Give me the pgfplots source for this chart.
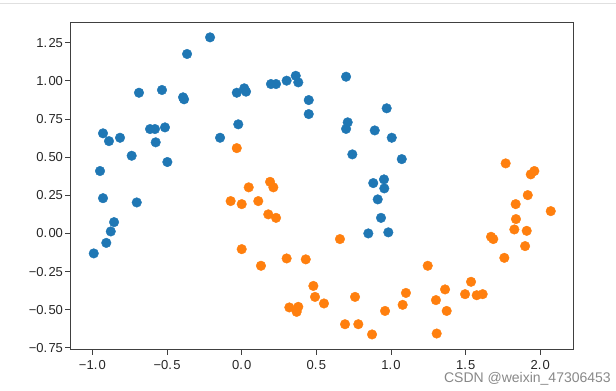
\documentclass[border=0pt]{standalone}
\usepackage{pgfplots}
\pgfplotsset{compat=1.18}
\usepackage{fontspec}
\setmainfont{Liberation Sans}
\definecolor{tabblue}{HTML}{1F77B4}
\definecolor{taborange}{HTML}{FF7F0E}
\newcommand{\p}{.\kern1.2pt}
\begin{document}
\begin{tikzpicture}
\useasboundingbox (0,0) rectangle (616pt,391pt);
\draw[black!12, line width=0.8pt] (0,387.7pt) -- (616pt,387.7pt);
\begin{axis}[
  at={(70.5pt,41.3pt)}, anchor=south west,
  scale only axis, width=502.8pt, height=327pt,
  xmin=-1.1467, xmax=2.221, ymin=-0.762, ymax=1.381,
  axis line style={black!75, line width=0.9pt},
  tick align=outside, major tick length=5pt,
  tick style={black!75, line width=0.8pt},
  xtick pos=bottom, ytick pos=left,
  xtick={-1,-0.5,0,0.5,1,1.5,2},
  xticklabels={−1\p0,−0\p5,0\p0,0\p5,1\p0,1\p5,2\p0},
  ytick={-0.75,-0.5,-0.25,0,0.25,0.5,0.75,1,1.25},
  yticklabels={−0\p75,−0\p50,−0\p25,0\p00,0\p25,0\p50,0\p75,1\p00,1\p25},
  tick label style={font=\fontsize{13}{14}\selectfont, text=black!85},
  xticklabel style={yshift=-2pt},
  yticklabel style={xshift=1pt},
  every axis plot/.append style={only marks, mark=*, mark size=4.8pt},
]
\addplot[tabblue, mark options={draw=none, fill=tabblue}] coordinates {
(-0.212,1.285) (-0.366,1.176) (-0.688,0.922) (-0.534,0.940) (-0.393,0.892)
(-0.386,0.879) (-0.033,0.922) (0.017,0.951) (0.029,0.929) (-0.023,0.715)
(-0.145,0.627) (-0.929,0.656) (-0.889,0.605) (-0.815,0.627) (-0.614,0.684)
(-0.581,0.684) (-0.514,0.695) (-0.576,0.597) (-0.737,0.509) (-0.498,0.468)
(-0.949,0.409) (-0.929,0.231) (-0.703,0.203) (-0.855,0.074) (-0.877,0.013)
(-0.907,-0.062) (-0.991,-0.131) (0.196,0.979) (0.230,0.979) (0.301,1.001)
(0.362,1.033) (0.379,0.990) (0.449,0.874) (0.449,0.782) (0.699,1.027)
(0.971,0.820) (0.710,0.728) (0.699,0.685) (0.891,0.675) (1.005,0.627)
(0.741,0.518) (1.072,0.487) (0.881,0.330) (0.953,0.354) (0.955,0.295)
(0.911,0.223) (0.933,0.102) (0.848,0.000) (0.982,0.007)
};
\addplot[taborange, mark options={draw=none, fill=taborange}] coordinates {
(-0.033,0.559) (0.047,0.302) (0.190,0.338) (0.212,0.302) (-0.074,0.212)
(0.000,0.192) (0.111,0.212) (0.178,0.125) (0.230,0.102) (0.000,-0.103)
(0.129,-0.212) (0.658,-0.037) (0.301,-0.164) (0.429,-0.170) (1.246,-0.212)
(0.480,-0.344) (0.491,-0.416) (0.551,-0.459) (0.759,-0.416) (0.319,-0.485)
(0.379,-0.481) (0.368,-0.514) (1.100,-0.390) (1.078,-0.468) (1.301,-0.437)
(0.960,-0.508) (0.692,-0.595) (0.781,-0.595) (0.873,-0.662) (1.306,-0.656)
(1.768,0.459) (1.936,0.387) (1.960,0.409) (1.916,0.251) (1.835,0.192)
(2.070,0.146) (1.837,0.094) (1.826,0.026) (1.909,0.017) (1.670,-0.022)
(1.685,-0.037) (1.898,-0.083) (1.759,-0.160) (1.536,-0.317) (1.362,-0.367)
(1.496,-0.398) (1.574,-0.405) (1.614,-0.398) (1.373,-0.508)
};
\end{axis}
\node[anchor=base east, inner sep=0pt, text=black!55, opacity=0.85,
      font=\fontsize{14}{16}\selectfont] at (611pt,8.5pt) {CSDN @weixin\_47306453};
\end{tikzpicture}
\end{document}
